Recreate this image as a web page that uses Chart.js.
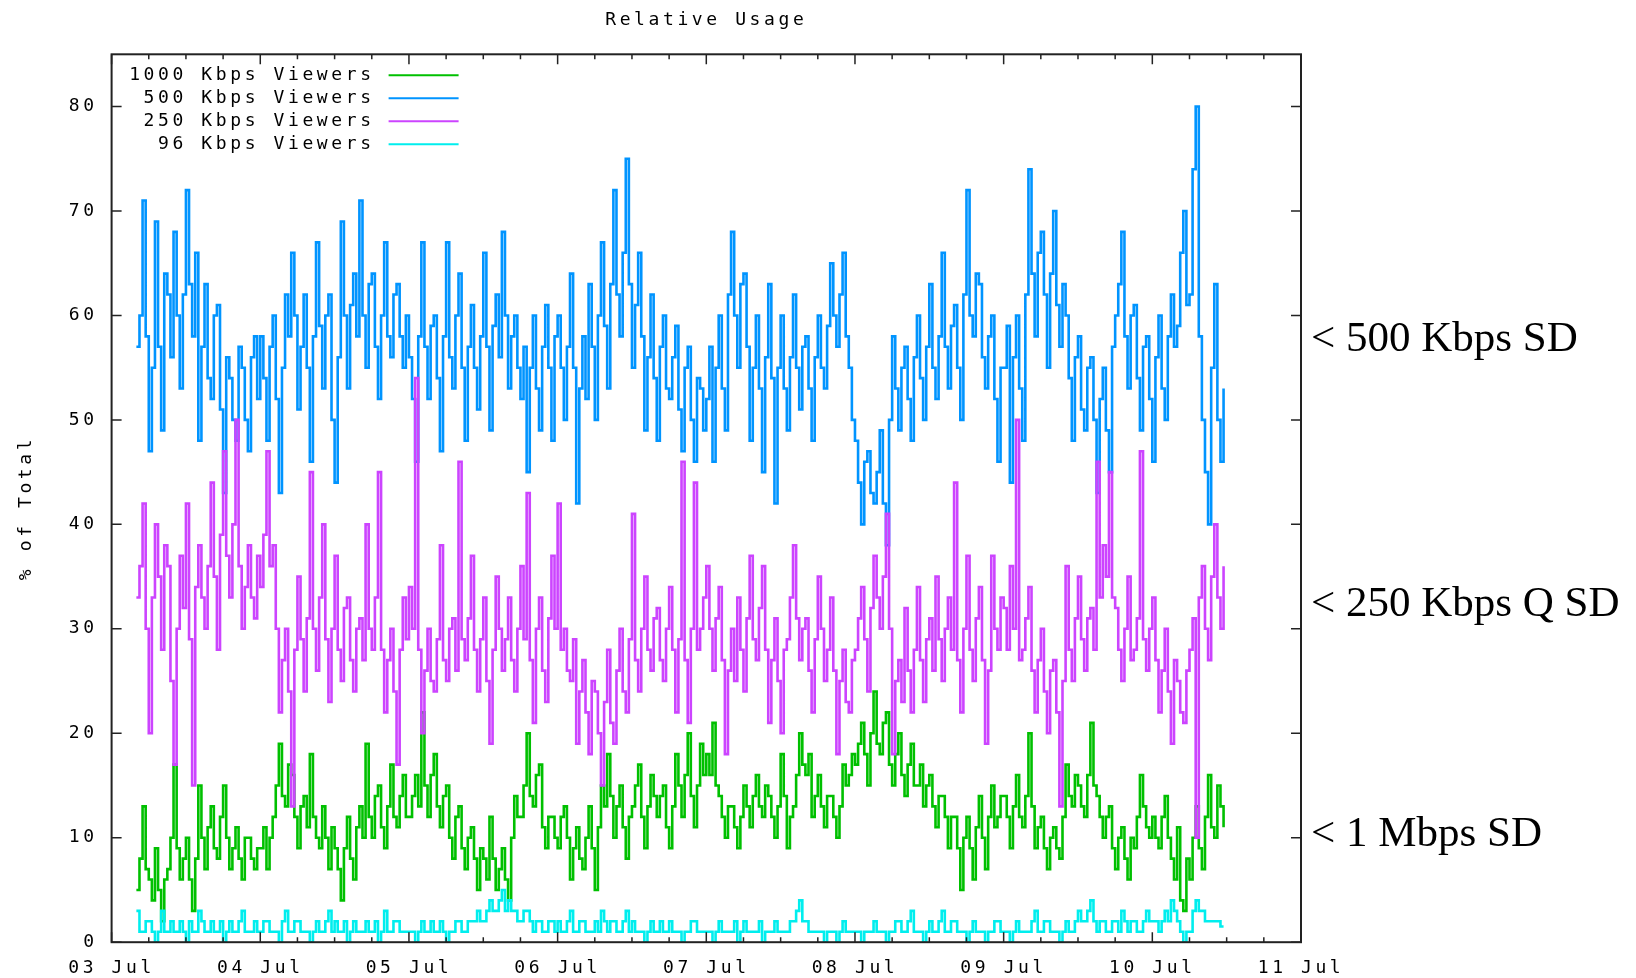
<!DOCTYPE html>
<html>
<head>
<meta charset="utf-8">
<title>Relative Usage</title>
<script src="https://cdn.jsdelivr.net/npm/chart.js@4.4.1/dist/chart.umd.min.js"></script>
<style>
  html, body { margin: 0; padding: 0; background: #fff; }
</style>
</head>
<body>
<canvas id="usage" width="1636" height="978"></canvas>
<script>
// one sample every half hour, first one at 03 Jul 04:00 (hour 4 of the axis)
var startHour = 4;
var stepHours = 0.5;
var dayLabels = ["03 Jul", "04 Jul", "05 Jul", "06 Jul", "07 Jul", "08 Jul", "09 Jul", "10 Jul", "11 Jul"];
var yTicks = [0, 10, 20, 30, 40, 50, 60, 70, 80];

var viewers1000 = [
  5,8,13,7,6,4,9,5,2,6,7,10,17,9,6,8,10,6,3,8,15,10,7,11,13,9,8,12,15,10,7,9,11,8,6,10,10,8,7,9,
  9,11,7,10,12,15,19,14,13,17,16,12,9,13,14,11,18,12,10,9,13,10,7,11,9,7,4,9,12,8,6,11,13,10,19,12,10,14,15,11,9,13,17,12,11,14,16,12,
  12,14,16,13,22,15,12,16,18,13,11,14,15,10,8,12,13,9,7,10,11,8,5,9,8,6,12,8,5,7,9,6,4,10,14,12,12,15,20,14,13,16,17,11,9,12,12,10,
  9,12,13,10,6,9,11,8,7,10,13,9,5,11,15,13,18,14,10,13,15,11,8,12,13,15,17,12,9,13,16,14,12,14,15,11,9,13,18,15,12,16,20,14,11,15,19,16,
  18,16,21,15,14,12,10,13,13,11,9,12,15,13,11,14,16,13,12,15,14,12,10,13,18,14,9,12,13,16,20,17,16,18,12,14,16,13,11,14,14,12,10,13,17,15,16,18,
  17,19,21,18,15,20,24,19,18,21,22,17,15,18,20,16,14,17,19,15,15,17,13,15,16,13,11,14,14,12,9,12,12,9,5,10,12,9,6,11,14,10,7,12,15,11,12,14,
  14,12,9,13,16,12,11,14,20,13,9,11,12,9,7,10,11,9,8,12,17,14,13,16,15,13,12,16,21,15,14,12,10,12,13,9,7,10,11,8,6,10,9,12,16,13,11,10,
  12,10,9,12,14,10,8,6,11,4,3,8,6,10,13,9,7,12,16,11,10,15,13,11
];
var viewers500 = [
  57,60,71,58,47,55,69,57,49,64,62,56,68,60,53,62,72,63,58,66,48,57,63,54,52,60,61,51,43,56,54,50,48,57,55,50,47,56,58,52,
  58,54,48,57,60,52,43,55,62,58,66,60,51,57,62,55,46,58,67,59,53,60,62,50,44,56,69,60,53,61,64,58,71,60,55,63,64,57,52,60,67,58,56,62,63,58,55,60,
  56,52,46,58,67,57,52,59,60,54,47,58,67,56,53,60,64,55,48,57,61,55,51,58,66,57,49,59,62,56,68,60,53,58,60,55,52,57,45,55,60,53,49,57,61,55,48,58,
  60,55,50,57,64,55,42,53,58,52,63,57,50,60,67,59,53,63,72,62,58,66,75,63,55,61,66,58,49,56,62,54,48,57,60,53,52,56,59,51,47,55,57,50,46,54,53,49,
  52,57,46,55,60,53,49,62,68,60,55,63,64,57,48,55,60,53,45,56,63,54,42,55,60,53,49,56,62,55,51,57,58,53,48,56,60,55,53,59,65,60,57,62,66,58,55,50,
  48,44,40,46,47,43,42,45,49,42,38,50,58,53,49,55,57,52,48,56,60,54,50,57,63,55,52,58,66,57,53,59,61,55,50,62,72,60,58,64,63,56,53,58,60,52,46,55,
  55,59,44,56,60,53,48,62,74,64,58,66,68,62,55,64,70,61,57,63,60,54,48,56,58,51,49,55,56,50,43,52,55,49,45,57,60,63,68,58,53,60,61,54,49,57,58,52,
  46,56,60,53,50,58,62,57,59,66,70,61,62,74,80,58,50,45,40,55,63,50,46,53
];
var viewers250 = [
  33,36,42,30,20,33,40,35,28,38,36,25,17,30,37,32,42,29,15,34,38,33,30,36,44,35,28,39,47,37,33,40,50,36,30,34,38,33,31,37,
  34,39,47,36,38,30,22,27,30,24,13,28,35,29,24,31,45,30,26,33,40,29,23,30,37,28,25,32,33,27,24,30,31,27,40,30,28,33,45,28,22,27,30,24,17,28,33,29,
  34,30,54,28,20,26,30,25,24,29,38,27,25,30,31,26,46,29,27,31,37,28,24,29,33,25,19,28,35,30,26,29,33,27,24,30,36,29,43,27,21,30,33,26,23,31,37,30,
  42,28,30,26,25,29,19,24,27,22,18,25,24,20,15,23,28,21,19,26,30,24,22,29,41,27,24,30,35,28,26,31,32,27,25,30,34,28,22,29,46,27,21,30,44,28,30,33,
  36,30,26,31,34,27,18,26,30,25,33,28,24,31,37,29,27,32,36,28,21,27,31,25,20,28,29,33,38,31,27,30,31,26,22,29,35,30,25,28,33,26,18,25,28,23,22,27,
  28,31,34,29,24,32,37,33,30,35,41,30,18,25,27,23,32,26,22,28,34,27,23,29,31,26,35,29,25,30,33,28,44,27,22,30,37,28,25,31,34,27,19,26,37,30,28,33,
  32,28,36,30,50,27,28,31,34,26,22,27,30,24,20,26,27,22,13,25,36,28,25,31,35,29,26,31,32,28,46,33,38,35,45,33,32,28,25,30,35,27,28,31,47,29,26,30,
  33,27,22,26,30,24,19,27,25,22,21,26,28,31,10,33,36,30,27,35,40,33,30,36
];
var viewers96 = [
  3,1,1,2,2,1,0,1,3,1,1,2,1,1,2,1,0,2,1,1,3,2,1,1,2,1,1,2,0,1,2,1,1,2,3,1,1,1,2,1,
  1,2,2,1,1,1,0,2,3,1,1,2,2,1,1,1,0,1,2,1,1,2,3,1,2,1,1,2,0,1,2,1,1,1,2,1,1,2,0,1,3,1,1,2,2,1,1,1,
  1,1,0,1,2,1,1,2,1,1,2,1,0,1,1,2,2,1,1,2,2,2,3,2,2,3,4,3,3,4,5,3,4,3,3,2,2,3,3,2,1,2,2,1,1,2,2,1,
  2,1,1,2,3,1,1,2,2,1,1,1,2,1,3,2,1,2,2,1,1,2,3,1,2,1,1,1,0,1,2,1,1,2,1,1,2,1,1,1,0,1,1,2,2,1,1,1,
  1,1,0,1,2,1,1,1,1,2,0,1,2,1,1,1,1,2,0,1,1,1,2,1,1,1,1,2,2,3,4,2,2,1,1,1,1,1,0,1,1,1,0,1,2,1,1,1,
  1,1,0,1,1,1,2,1,1,1,0,1,1,2,2,1,1,2,3,1,1,1,0,1,2,1,1,2,3,1,1,2,2,1,1,1,0,1,2,1,1,1,0,1,1,2,2,1,
  1,1,0,1,2,1,1,1,1,2,3,1,1,2,2,1,1,1,0,1,2,1,1,2,3,2,2,3,4,2,1,2,2,1,1,2,2,1,3,2,1,2,2,1,1,2,3,2,
  2,2,1,2,3,2,4,3,2,1,0,1,1,3,4,3,3,2,2,2,2,2,1.5,1.5
];

var seriesNames = ["1000 Kbps Viewers", "500 Kbps Viewers", "250 Kbps Viewers", "96 Kbps Viewers"];
var seriesColors = ["#00c000", "#0094ff", "#cc44ff", "#00eeee"];

var noteTexts = ["< 500 Kbps SD", "< 250 Kbps Q SD", "< 1 Mbps SD"];
var noteLevels = [57.7, 32.3, 10.3];

var MONO = "'DejaVu Sans Mono', monospace";
var SPACING = "3.6px";

function toPoints(values) {
  return values.map(function (v, i) { return { x: startHour + i * stepHours, y: v }; });
}

// gnuplot's bitmap font is wide, so stretch the mono font a bit
var spacing = {
  id: "spacing",
  beforeLayout: function (chart) { chart.ctx.letterSpacing = SPACING; },
  beforeDraw: function (chart) { chart.ctx.letterSpacing = SPACING; }
};

// border box, inward ticks, key and the side notes
var decor = {
  id: "decor",
  afterDatasetsDraw: function (chart) {
    var ctx = chart.ctx, a = chart.chartArea;
    var xs = chart.scales.x, ys = chart.scales.y;
    ctx.save();
    ctx.strokeStyle = "#222";
    ctx.lineWidth = 2;
    ctx.strokeRect(a.left, a.top, a.right - a.left, a.bottom - a.top);

    ctx.lineWidth = 1.5;
    ctx.beginPath();
    yTicks.forEach(function (v) {
      var y = ys.getPixelForValue(v);
      ctx.moveTo(a.left, y); ctx.lineTo(a.left + 10, y);
      ctx.moveTo(a.right, y); ctx.lineTo(a.right - 10, y);
    });
    for (var h = 0; h <= 192; h += 6) {
      var x = xs.getPixelForValue(h);
      var len = h % 24 === 0 ? 10 : 5;
      ctx.moveTo(x, a.bottom); ctx.lineTo(x, a.bottom - len);
      ctx.moveTo(x, a.top); ctx.lineTo(x, a.top + len);
    }
    ctx.stroke();

    // key, gnuplot style: text right aligned, sample line after it
    ctx.font = "18px " + MONO;
    ctx.letterSpacing = SPACING;
    ctx.fillStyle = "#000";
    ctx.textAlign = "right";
    ctx.textBaseline = "middle";
    chart.data.datasets.forEach(function (ds, i) {
      var y = a.top + 21 + 23 * i;
      ctx.fillText(ds.label, a.left + 263, y);
      ctx.strokeStyle = ds.borderColor;
      ctx.lineWidth = 2;
      ctx.beginPath();
      ctx.moveTo(a.left + 277, y);
      ctx.lineTo(a.left + 347, y);
      ctx.stroke();
    });

    // y axis title
    ctx.save();
    ctx.translate(26, 508);
    ctx.rotate(-Math.PI / 2);
    ctx.textAlign = "center";
    ctx.fillText("% of Total", 0, 0);
    ctx.restore();

    // notes to the right of the plot
    ctx.letterSpacing = "0px";
    ctx.font = "43px 'Liberation Serif', 'Times New Roman', serif";
    ctx.textAlign = "left";
    noteTexts.forEach(function (t, i) {
      ctx.fillText(t, a.right + 10, ys.getPixelForValue(noteLevels[i]));
    });
    ctx.restore();
  }
};

Chart.defaults.color = "#000";
Chart.defaults.font.family = MONO;

new Chart("usage", {
  type: "line",
  data: {
    datasets: [
      { label: seriesNames[0], data: toPoints(viewers1000), borderColor: seriesColors[0], order: 4 },
      { label: seriesNames[1], data: toPoints(viewers500), borderColor: seriesColors[1], order: 3 },
      { label: seriesNames[2], data: toPoints(viewers250), borderColor: seriesColors[2], order: 2 },
      { label: seriesNames[3], data: toPoints(viewers96), borderColor: seriesColors[3], order: 1 }
    ]
  },
  options: {
    responsive: false,
    animation: false,
    layout: { padding: { left: 0, right: 335, top: 0, bottom: 0 } },
    elements: {
      line: { borderWidth: 2.6, tension: 0, fill: false, stepped: true, borderJoinStyle: "miter" },
      point: { radius: 0 }
    },
    plugins: {
      legend: { display: false },
      tooltip: { enabled: false },
      title: {
        display: true,
        text: "Relative Usage",
        fullSize: false,
        color: "#000",
        font: { family: MONO, size: 18, weight: "normal", lineHeight: 1.2 },
        padding: { top: 9.5, bottom: 23.2 }
      }
    },
    scales: {
      x: {
        type: "linear",
        min: 0,
        max: 192,
        grid: { display: false, drawTicks: false },
        border: { display: false },
        ticks: {
          stepSize: 24,
          autoSkip: false,
          maxRotation: 0,
          padding: 15.5,
          font: { family: MONO, size: 18 },
          callback: function (v) { return dayLabels[v / 24]; }
        },
        afterFit: function (s) { s.height = 35.8; }
      },
      y: {
        min: 0,
        max: 85,
        grid: { display: false, drawTicks: false },
        border: { display: false },
        afterBuildTicks: function (s) { s.ticks = yTicks.map(function (v) { return { value: v }; }); },
        ticks: { padding: 14, font: { family: MONO, size: 18 } },
        afterFit: function (s) { s.width = 111.6; }
      }
    }
  },
  plugins: [spacing, decor]
});
</script>
</body>
</html>
